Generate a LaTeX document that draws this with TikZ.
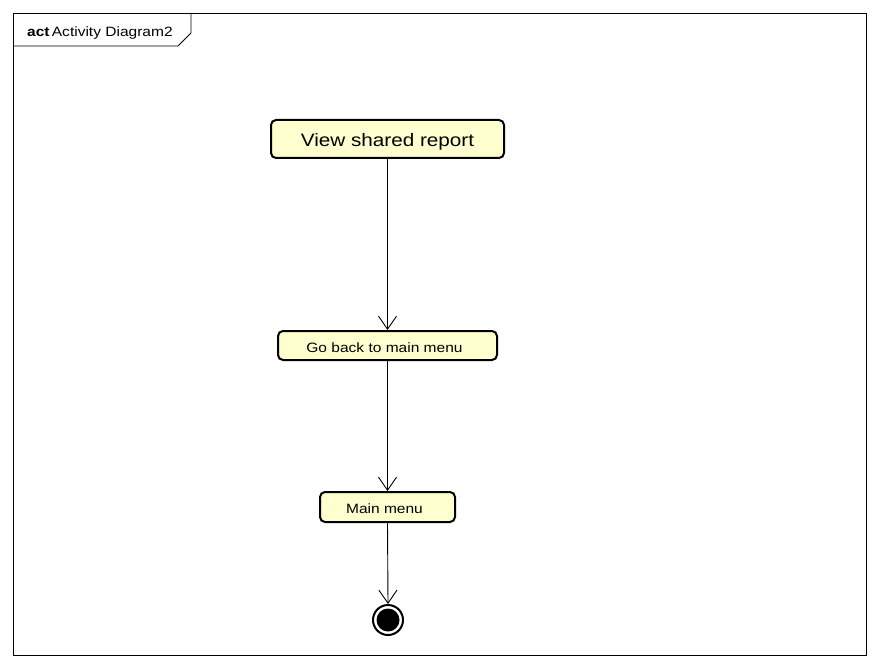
\documentclass[tikz,border=0pt]{standalone}
\usepackage{fontspec}
\setmainfont{Liberation Sans}[FakeStretch=1.15]
\usetikzlibrary{arrows.meta}
\definecolor{actfill}{HTML}{FEFECE}
\tikzset{
  action/.style={draw=black, line width=2pt, fill=actfill, rounded corners=5pt, inner sep=0pt, anchor=center},
  bigtext/.style={font=\fontsize{18}{21}\selectfont, text height=16pt, text depth=0pt},
  smalltext/.style={font=\fontsize{13.5}{16}\selectfont, text height=13.5pt, text depth=0pt},
  flow/.style={draw=black, line width=0.9pt, -{Straight Barb[length=13pt,width=18pt,line width=0.9pt]}},
}
\begin{document}
\begin{tikzpicture}[x=1pt,y=-1pt]
\useasboundingbox (0,0) rectangle (880,668);
\fill[white] (0,0) rectangle (880,668);
% frame
\draw[line width=0.9pt] (13,13) rectangle (866,655);
\draw[line width=0.9pt] (13,46) -- (178,46) -- (191,33) -- (191,13);
\node[anchor=base west, inner sep=0pt, font=\fontsize{13.5}{16}\selectfont] (title) at (27,37) {\textbf{act}\,Activity Diagram2};
% actions
\node[action, bigtext, minimum width=233pt, minimum height=38pt] (view) at (387.5,139) {View shared report};
\node[action, smalltext, minimum width=219pt, minimum height=29pt] (back) at (387.5,345.5) {\hspace*{-6pt}Go back to main menu};
\node[action, smalltext, minimum width=135pt, minimum height=30pt] (menu) at (387.5,507) {\hspace*{-6pt}Main menu};
% final node
\node[circle, draw=black, line width=2pt, fill=white, minimum size=30pt, inner sep=0pt] (final) at (388,620) {};
\fill[black] (final.center) circle (11.5pt);
% flows
\draw[flow] (view.south) -- (back.north);
\draw[flow] (back.south) -- (menu.north);
\draw[flow] (menu.south) -- (final.north);
\end{tikzpicture}
\end{document}
